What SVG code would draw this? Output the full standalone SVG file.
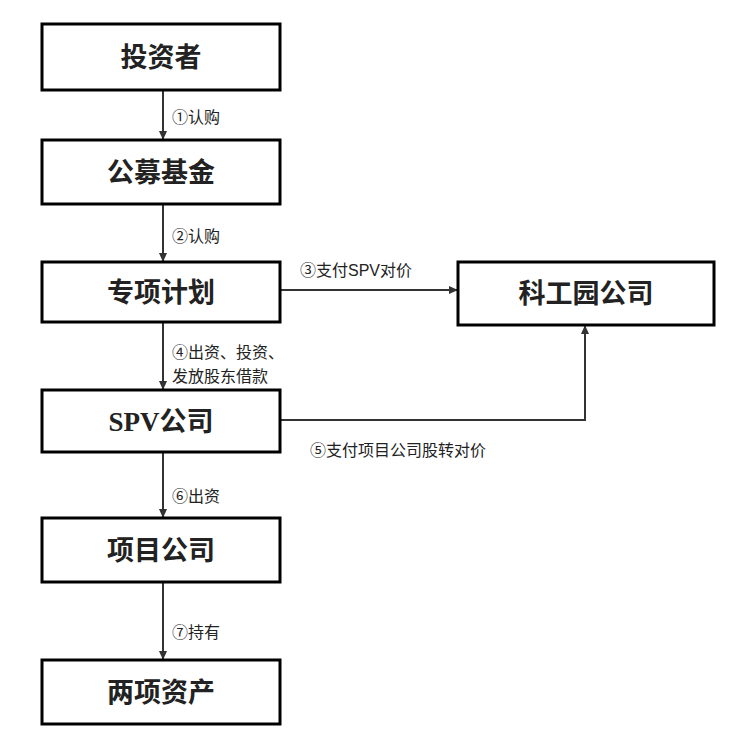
<svg xmlns="http://www.w3.org/2000/svg" width="734" height="754" viewBox="0 0 734 754">
<style>
.b{fill:#fff;stroke:#000;stroke-width:3}
.t{font-family:"Liberation Serif","Noto Sans CJK SC",serif;font-weight:bold;font-size:27px;text-anchor:middle;fill:#222}
.l{font-family:"Liberation Sans","Noto Sans CJK SC",sans-serif;font-size:16px;fill:#222}
.c{fill:none;stroke:#333;stroke-width:2;marker-end:url(#a)}
</style>
<defs><marker id="a" markerWidth="10" markerHeight="10" refX="8" refY="5" orient="auto" markerUnits="userSpaceOnUse"><path d="M0,1 L9,5 L0,9 Z" fill="#333"/></marker></defs>
<rect width="734" height="754" fill="#fff"/>
<g id="connectors">
<path class="c" d="M163,90 V139"/>
<path class="c" d="M163,204 V261"/>
<path class="c" d="M280,290 H457"/>
<path class="c" d="M163,322 V389"/>
<path class="c" d="M280,420 H585 V326"/>
<path class="c" d="M163,452 V517"/>
<path class="c" d="M163,582 V659"/>
<text class="l" x="172" y="123">①认购</text>
<text class="l" x="172" y="242">②认购</text>
<text class="l" x="300" y="276">③支付SPV对价</text>
<text class="l" x="172" y="358">④出资、投资、</text>
<text class="l" x="172" y="382">发放股东借款</text>
<text class="l" x="310" y="456">⑤支付项目公司股转对价</text>
<text class="l" x="172" y="502">⑥出资</text>
<text class="l" x="172" y="638">⑦持有</text>
</g>
<g id="n1"><rect class="b" x="42" y="24" width="238" height="66"/><text class="t" x="161" y="67">投资者</text></g>
<g id="n2"><rect class="b" x="42" y="140" width="238" height="64"/><text class="t" x="161" y="182">公募基金</text></g>
<g id="n3"><rect class="b" x="42" y="262" width="238" height="60"/><text class="t" x="161" y="302">专项计划</text></g>
<g id="n4"><rect class="b" x="458" y="262" width="256" height="63"/><text class="t" x="586" y="303">科工园公司</text></g>
<g id="n5"><rect class="b" x="42" y="390" width="238" height="62"/><text class="t" x="161" y="431">SPV公司</text></g>
<g id="n6"><rect class="b" x="42" y="518" width="238" height="64"/><text class="t" x="161" y="560">项目公司</text></g>
<g id="n7"><rect class="b" x="42" y="660" width="238" height="64"/><text class="t" x="161" y="702">两项资产</text></g>
</svg>
